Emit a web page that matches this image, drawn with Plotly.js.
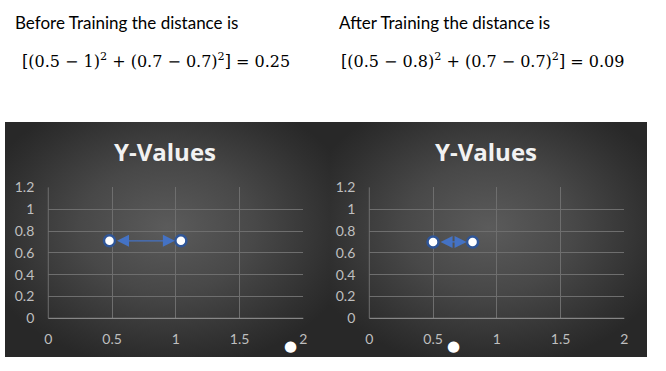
<!DOCTYPE html>
<html>
<head>
<meta charset="utf-8">
<script src="https://cdn.plot.ly/plotly-3.0.1.min.js"></script>
<style>
  html, body { margin:0; padding:0; background:#ffffff; }
  #wrap { position:relative; width:666px; height:371px; overflow:hidden; }
  .panel { position:absolute; top:122px; height:235px;
    background: radial-gradient(ellipse 60% 60% at 50% 45%, #5b5b5b 0%, #484848 45%, #303030 85%, #282828 100%); }
  #p1 { left:5px; width:325px; }
  #p2 { left:330px; width:317px; }
  #chart { position:absolute; left:0; top:0; width:666px; height:371px; }
</style>
</head>
<body>
<div id="wrap">
  <div class="panel" id="p1"></div>
  <div class="panel" id="p2"></div>
  <div id="chart"></div>
</div>
<script>
// Data
const beforeX = [0.48, 1.04];
const beforeY = [0.71, 0.71];
const afterX = [0.5, 0.81];
const afterY = [0.70, 0.70];
const strayBeforeX = [1.9];
const strayBeforeY = [-0.25];
const strayAfterX = [0.66];
const strayAfterY = [-0.25];
const xTicks = [0, 0.5, 1, 1.5, 2];
const xTickText = ['0', '0.5', '1', '1.5', '2'];
const yTicks = [0, 0.2, 0.4, 0.6, 0.8, 1, 1.2];
const yTickText = ['0', '0.2', '0.4', '0.6', '0.8', '1', '1.2'];
const chartTitle = 'Y-Values';
const beforeLabel = 'Before Training the distance is';
const afterLabel = 'After Training the distance is';
const beforeFormula = '[(0.5 − 1)<sup>2</sup> + (0.7 − 0.7)<sup>2</sup>] = 0.25';
const afterFormula = '[(0.5 − 0.8)<sup>2</sup> + (0.7 − 0.7)<sup>2</sup>] = 0.09';

const xRange = [0, 2];
const yRange = [0, 1.2];

const markerStyle = { size: 11, color: '#ffffff', line: { color: '#2f5597', width: 2.5 } };

const traces = [
  { x: beforeX, y: beforeY, xaxis: 'x', yaxis: 'y', mode: 'markers', type: 'scatter', marker: markerStyle, hoverinfo: 'skip' },
  { x: afterX, y: afterY, xaxis: 'x2', yaxis: 'y2', mode: 'markers', type: 'scatter', marker: markerStyle, hoverinfo: 'skip' }
];

const tickFont = { family: 'Lato, "Open Sans", sans-serif', size: 14, color: '#bfbfbf' };

function xax(domain) {
  return {
    domain: domain, range: xRange, tickvals: xTicks, ticktext: xTickText,
    showgrid: true, gridcolor: '#6e6e6e', gridwidth: 1,
    zeroline: false, showline: false, ticks: '',
    tickfont: tickFont, ticklabelstandoff: 11, fixedrange: true
  };
}
function yax(anchor) {
  return {
    domain: [0.142, 0.495], range: yRange, tickvals: yTicks, ticktext: yTickText,
    showgrid: true, gridcolor: '#6e6e6e', gridwidth: 1,
    zeroline: false, showline: false, ticks: '', anchor: anchor,
    tickfont: tickFont, ticklabelstandoff: 13, fixedrange: true
  };
}

const textFont = { family: 'Lato, "Open Sans", sans-serif', size: 17, color: '#000000' };
const mathFont = { family: '"DejaVu Serif", "Liberation Serif", serif', size: 16, color: '#000000' };
const titleFont = { family: '"Open Sans", Lato, sans-serif', size: 24, color: '#f2f2f2', weight: 'bold' };
const strayFont = { family: '"DejaVu Sans", sans-serif', size: 15, color: '#ffffff' };

function arrow(xref, yref, x0, x1, y) {
  return {
    xref: xref, yref: yref, axref: xref, ayref: yref,
    x: x1, y: y, ax: x0, ay: y, text: '', showarrow: true,
    arrowhead: 2, startarrowhead: 2, arrowside: 'end+start',
    arrowsize: 2, startarrowsize: 2, arrowwidth: 1.2, arrowcolor: '#4472c4',
    standoff: 6, startstandoff: 6
  };
}
// stray dots lie below the plot area; placed via axis-domain fractions derived from their data values
function stray(ax, x, y) {
  return {
    xref: ax[0] + ' domain', yref: ax[1] + ' domain',
    x: (x - xRange[0]) / (xRange[1] - xRange[0]),
    y: (y - yRange[0]) / (yRange[1] - yRange[0]),
    text: '●', showarrow: false, font: strayFont, xanchor: 'center', yanchor: 'middle'
  };
}

const layout = {
  width: 666, height: 371,
  margin: { l: 0, r: 0, t: 0, b: 0 },
  paper_bgcolor: 'rgba(0,0,0,0)', plot_bgcolor: 'rgba(0,0,0,0)',
  showlegend: false,
  xaxis: xax([0.0725, 0.4554]), yaxis: yax('x'),
  xaxis2: xax([0.5545, 0.9374]), yaxis2: yax('x2'),
  shapes: [
    { type: 'line', xref: 'x domain', yref: 'y domain', x0: 0, x1: 1, y0: 0, y1: 0, line: { color: '#9a9a9a', width: 1 } },
    { type: 'line', xref: 'x domain', yref: 'y domain', x0: 0, x1: 0, y0: 0, y1: 1, line: { color: '#6e6e6e', width: 1 } },
    { type: 'line', xref: 'x2 domain', yref: 'y2 domain', x0: 0, x1: 1, y0: 0, y1: 0, line: { color: '#9a9a9a', width: 1 } },
    { type: 'line', xref: 'x2 domain', yref: 'y2 domain', x0: 0, x1: 0, y0: 0, y1: 1, line: { color: '#6e6e6e', width: 1 } }
  ],
  annotations: [
    arrow('x', 'y', beforeX[0], beforeX[1], beforeY[0]),
    arrow('x2', 'y2', afterX[0], afterX[1], afterY[0]),
    stray(['x', 'y'], strayBeforeX[0], strayBeforeY[0]),
    stray(['x2', 'y2'], strayAfterX[0], strayAfterY[0]),
    { xref: 'paper', yref: 'paper', x: 0.2477, y: 0.592, text: chartTitle, showarrow: false, font: titleFont, xanchor: 'center', yanchor: 'middle' },
    { xref: 'paper', yref: 'paper', x: 0.7297, y: 0.592, text: chartTitle, showarrow: false, font: titleFont, xanchor: 'center', yanchor: 'middle' },
    { xref: 'paper', yref: 'paper', x: 13/666, y: 1 - 23/371, text: beforeLabel, showarrow: false, font: textFont, xanchor: 'left', yanchor: 'middle' },
    { xref: 'paper', yref: 'paper', x: 337/666, y: 1 - 23/371, text: afterLabel, showarrow: false, font: textFont, xanchor: 'left', yanchor: 'middle' },
    { xref: 'paper', yref: 'paper', x: 20/666, y: 1 - 61/371, text: beforeFormula, showarrow: false, font: mathFont, xanchor: 'left', yanchor: 'middle' },
    { xref: 'paper', yref: 'paper', x: 339/666, y: 1 - 61/371, text: afterFormula, showarrow: false, font: mathFont, xanchor: 'left', yanchor: 'middle' }
  ]
};

Plotly.newPlot('chart', traces, layout, { staticPlot: true, displayModeBar: false });
</script>
</body>
</html>
